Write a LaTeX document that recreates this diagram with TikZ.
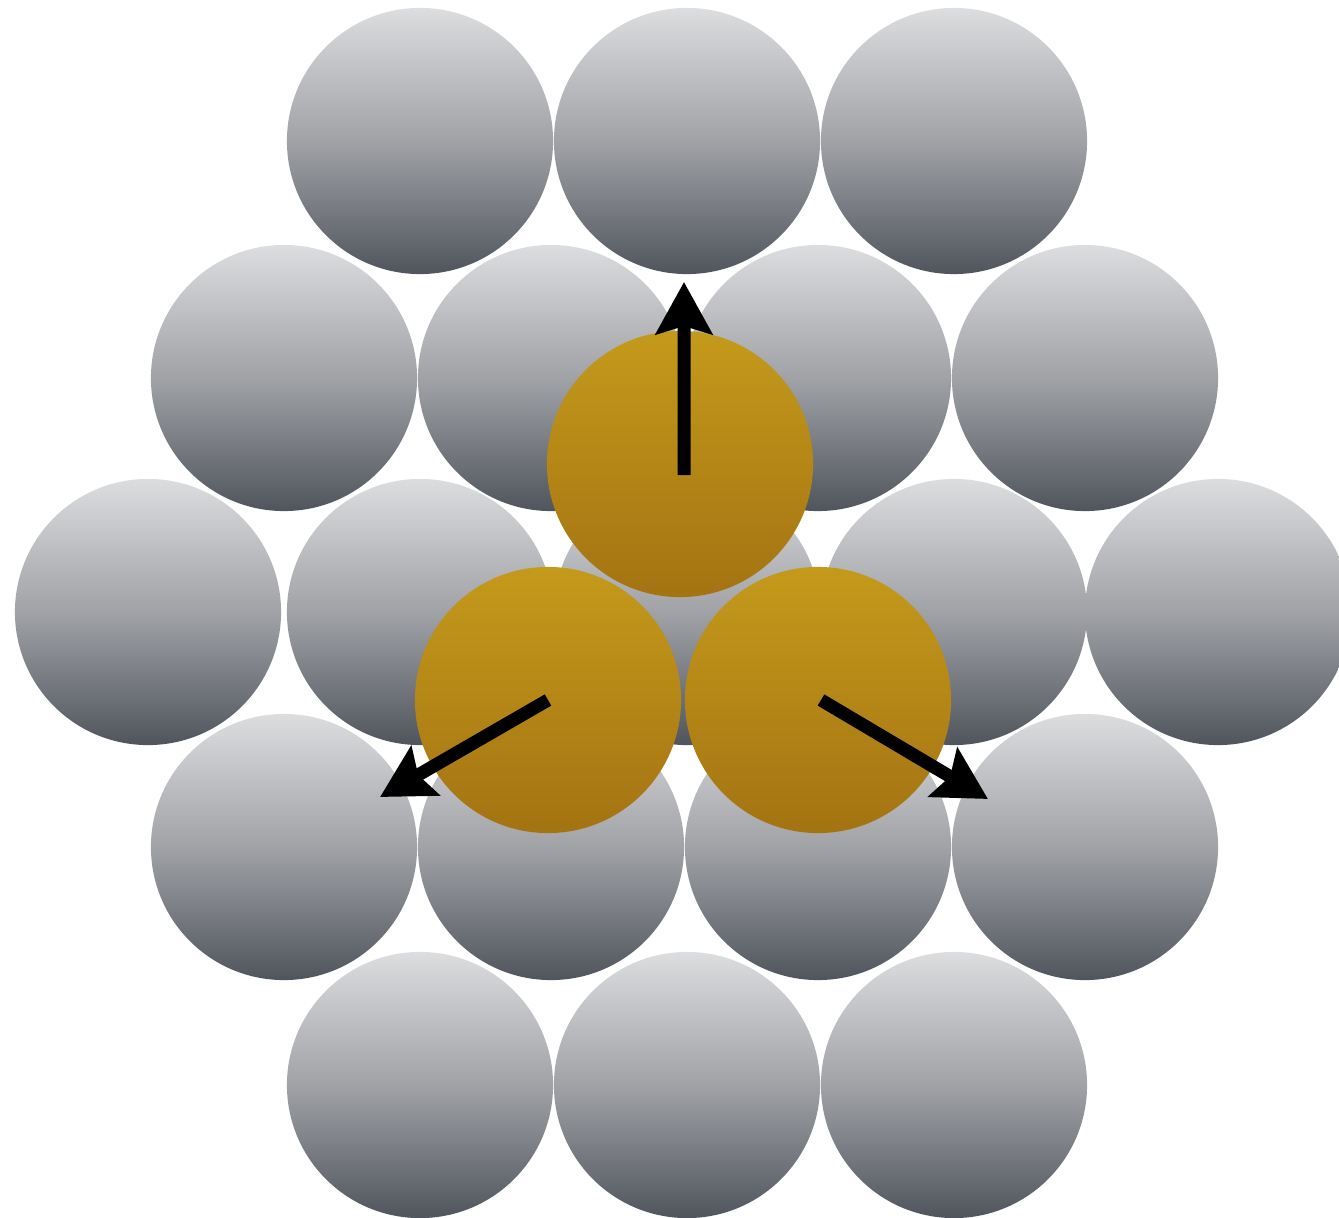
\documentclass[tikz,border=0pt]{standalone}
\usetikzlibrary{arrows.meta}
\definecolor{ballhi}{HTML}{DCDDDF}
\definecolor{ballmid}{HTML}{A0A2A6}
\definecolor{balllo}{HTML}{50555D}
\definecolor{goldhi}{HTML}{C49A1B}
\definecolor{goldlo}{HTML}{A47312}
\tikzset{
	ball/.style={circle,inner sep=0pt,minimum size=2.66cm,top color=ballhi,bottom color=balllo,middle color=ballmid},
	goldball/.style={circle,inner sep=0pt,minimum size=2.66cm,top color=goldhi,bottom color=goldlo},
	push/.style={-{Stealth[length=0.52cm,width=0.56cm,inset=0.08cm]},line width=0.13cm}
}
\begin{document}
\begin{tikzpicture}[x=0.01cm,y=-0.01cm,line join=round]
	\useasboundingbox (0,0) rectangle (1339,1218);
	\clip (0,0) rectangle (1339,1218);
	\node[ball] (a1) at (420,141) {}; \node[ball] (a2) at (687,141) {}; \node[ball] (a3) at (954,141) {};
	\node[ball] (b1) at (284,378) {}; \node[ball] (b2) at (551,378) {}; \node[ball] (b3) at (818,378) {}; \node[ball] (b4) at (1085,378) {};
	\node[ball] (c1) at (148,612) {}; \node[ball] (c2) at (420,612) {}; \node[ball] (c3) at (687,612) {}; \node[ball] (c4) at (954,612) {}; \node[ball] (c5) at (1218,612) {};
	\node[ball] (d1) at (284,847) {}; \node[ball] (d2) at (551,847) {}; \node[ball] (d3) at (818,847) {}; \node[ball] (d4) at (1085,847) {};
	\node[ball] (e1) at (420,1085) {}; \node[ball] (e2) at (687,1085) {}; \node[ball] (e3) at (954,1085) {};
	\node[goldball] (g1) at (680,464) {};
	\node[goldball] (g2) at (548,700) {};
	\node[goldball] (g3) at (818,700) {};
	\coordinate (up) at (684,282);
	\coordinate (left) at (380,797);
	\coordinate (right) at (988,799);
	\draw[push] ([xshift=0.04cm,yshift=-0.11cm]g1.center) -- (up);
	\draw[push] (g2.center) -- (left);
	\draw[push] ([xshift=0.03cm]g3.center) -- (right);
\end{tikzpicture}
\end{document}
